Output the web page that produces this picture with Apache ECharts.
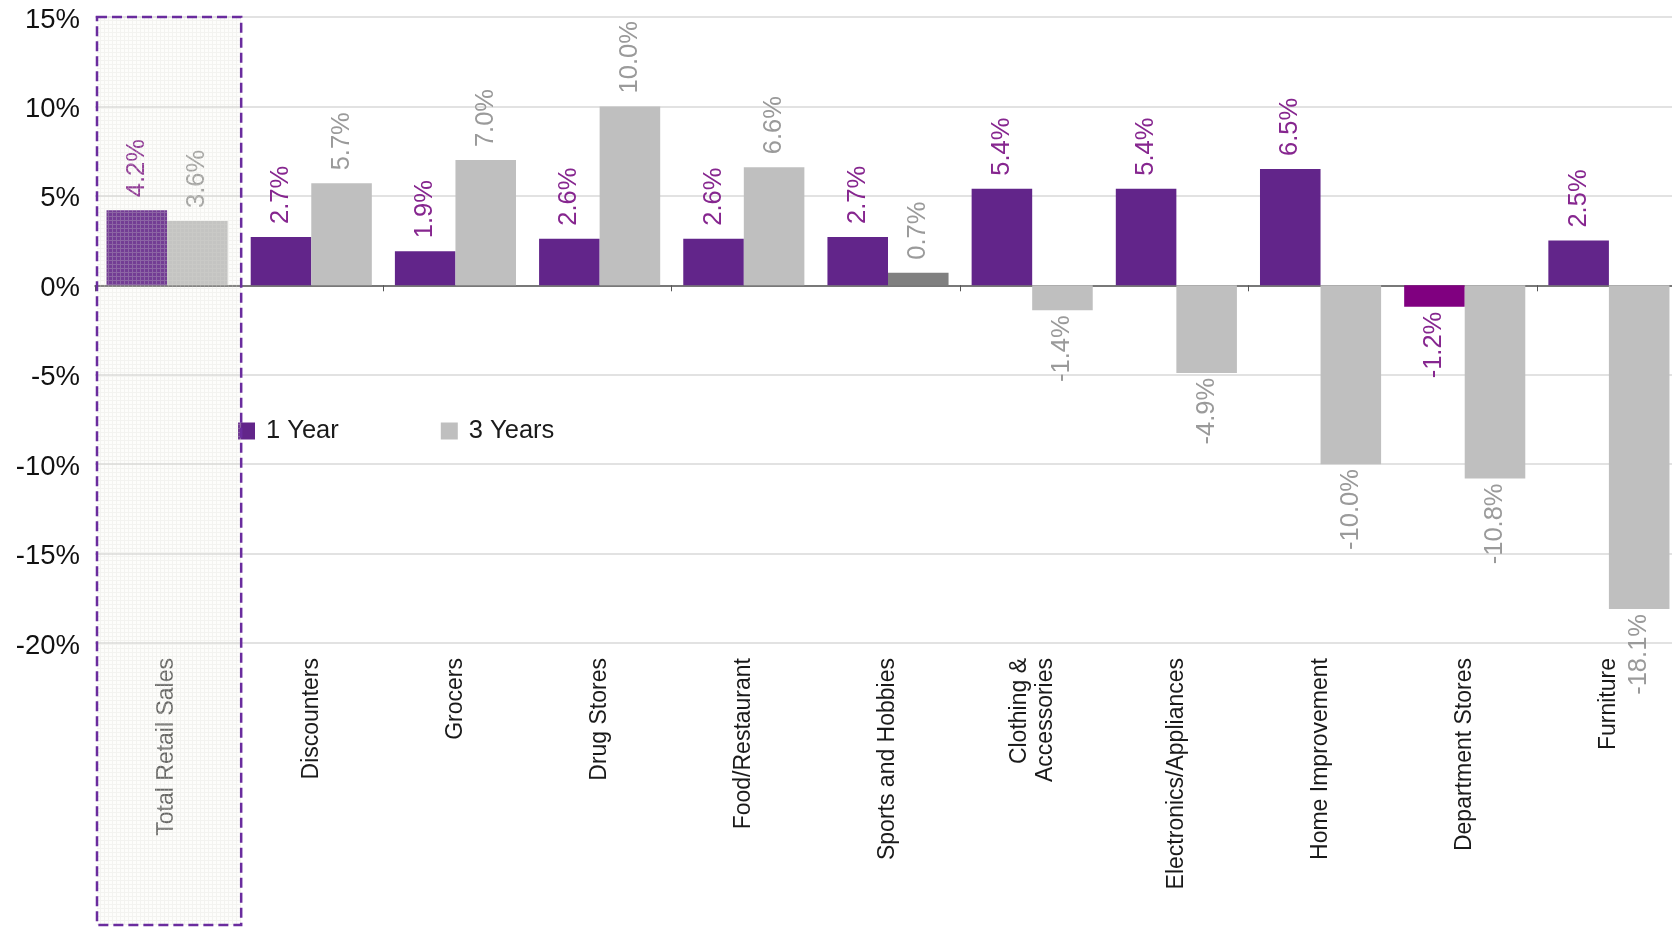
<!DOCTYPE html>
<html>
<head>
<meta charset="utf-8">
<script src="https://cdn.jsdelivr.net/npm/echarts@6/dist/echarts.min.js"></script>
<style>
  html, body { margin: 0; padding: 0; background: #ffffff; }
  #chart { width: 1672px; height: 927px; }
</style>
</head>
<body>
<div id="chart"></div>
<script>
// Retail sales growth by segment: 1-year vs 3-year change (%)
const categories = [
  'Total Retail Sales', 'Discounters', 'Grocers', 'Drug Stores', 'Food/Restaurant',
  'Sports and Hobbies', 'Clothing &\nAccessories', 'Electronics/Appliances',
  'Home Improvement', 'Department Stores', 'Furniture'
];
const oneYear = [4.2, 2.7, 1.9, 2.6, 2.6, 2.7, 5.4, 5.4, 6.5, -1.2, 2.5];
const threeYears = [3.6, 5.7, 7.0, 10.0, 6.6, 0.7, -1.4, -4.9, -10.0, -10.8, -18.1];
const yTicks = { min: -20, max: 15, interval: 5 };

const PURPLE = '#62258a';
const GREY = '#bfbfbf';
const PURPLE_LABEL = '#86268f';
const GREY_LABEL = '#9a9a9a';
// individual bars drawn in an alternate shade
const oneYearAccent = { 9: '#800080' };
const threeYearAccent = { 5: '#808080' };
const FONT = '"Liberation Sans", Arial, Helvetica, sans-serif';

function labelFor(v, color) {
  const pos = v >= 0;
  return {
    show: true,
    position: pos ? 'top' : 'bottom',
    rotate: 90,
    align: pos ? 'left' : 'right',
    verticalAlign: 'middle',
    distance: pos ? 13 : 5,
    color: color,
    fontSize: 25.5,
    fontFamily: FONT,
    formatter: v.toFixed(1) + '%'
  };
}

function buildData(values, accents, labelColor) {
  return values.map((v, i) => {
    const item = { value: v, label: labelFor(v, labelColor) };
    if (accents[i]) item.itemStyle = { color: accents[i] };
    return item;
  });
}

const chart = echarts.init(document.getElementById('chart'), null, { renderer: 'canvas' });

const option = {
  animation: false,
  backgroundColor: '#ffffff',
  textStyle: { fontFamily: FONT },
  // the last category runs slightly past the right edge of the canvas
  grid: {
    left: 95, width: 1586, top: 17, bottom: 284,
    containLabel: false, outerBoundsMode: 'none'
  },
  legend: {
    data: ['1 Year', '3 Years'],
    left: 233,
    top: 413,
    icon: 'rect',
    itemWidth: 17,
    itemHeight: 17,
    itemGap: 102,
    textStyle: { fontSize: 25.5, color: '#1a1a1a', fontFamily: FONT, padding: [0, 0, 0, 6] }
  },
  xAxis: [
    {
      type: 'category',
      data: categories,
      position: 'bottom',
      axisLine: { show: true, onZero: true, lineStyle: { color: '#555555', width: 1.5 } },
      axisTick: { show: true, length: 6, alignWithLabel: false, lineStyle: { color: '#555555' } },
      axisLabel: { show: false },
      splitLine: { show: false }
    },
    {
      type: 'category',
      data: categories,
      position: 'bottom',
      offset: 0,
      axisLine: { show: false, onZero: false },
      axisTick: { show: false },
      axisLabel: {
        show: true,
        rotate: 90,
        margin: 15,
        interval: 0,
        fontSize: 23,
        lineHeight: 26,
        fontFamily: FONT,
        color: (value, index) => (index === 0 ? '#555555' : '#1a1a1a')
      },
      splitLine: { show: false }
    }
  ],
  yAxis: {
    type: 'value',
    min: yTicks.min,
    max: yTicks.max,
    interval: yTicks.interval,
    axisLine: { show: false },
    axisTick: { show: false },
    axisLabel: {
      formatter: (v) => '{t|' + v + '%}',
      margin: 15,
      rich: {
        t: { fontSize: 27.5, color: '#111111', fontFamily: FONT, padding: [6, 0, 0, 0] }
      }
    },
    splitLine: { show: true, lineStyle: { color: '#d9d9d9', width: 1.5 } }
  },
  series: [
    {
      name: '1 Year',
      type: 'bar',
      xAxisIndex: 0,
      barGap: '0%',
      barCategoryGap: '16%',
      itemStyle: { color: PURPLE },
      data: buildData(oneYear, oneYearAccent, PURPLE_LABEL)
    },
    {
      name: '3 Years',
      type: 'bar',
      xAxisIndex: 0,
      barGap: '0%',
      barCategoryGap: '16%',
      itemStyle: { color: GREY },
      data: buildData(threeYears, threeYearAccent, GREY_LABEL)
    }
  ]
};

chart.setOption(option);

// Highlight band around the "Total Retail Sales" category
function textureCanvas() {
  const c = document.createElement('canvas');
  c.width = 4; c.height = 4;
  const ctx = c.getContext('2d');
  ctx.fillStyle = 'rgba(236,236,222,0.12)';
  ctx.fillRect(0, 0, 4, 4);
  ctx.fillStyle = 'rgba(218,218,208,0.26)';
  ctx.fillRect(0, 0, 4, 1);
  ctx.fillRect(0, 1, 1, 3);
  return c;
}

const gridModel = chart.getModel().getComponent('grid', 0);
const rect = gridModel.coordinateSystem.getRect();
const band = rect.width / categories.length;
const center0 = chart.convertToPixel({ xAxisIndex: 0 }, 0);
const topY = chart.convertToPixel({ yAxisIndex: 0 }, yTicks.max);
const bx = center0 - band / 2 + 2;
const bw = band;
const bh = chart.getHeight() - 2 - topY;

chart.setOption({
  graphic: [
    {
      type: 'rect',
      z: 100,
      silent: true,
      shape: { x: bx, y: topY, width: bw, height: bh },
      style: { fill: { image: textureCanvas(), repeat: 'repeat' } }
    },
    {
      type: 'rect',
      z: 101,
      silent: true,
      shape: { x: bx, y: topY, width: bw, height: bh },
      style: { fill: 'none', stroke: '#6a2c9e', lineWidth: 2.5, lineDash: [10, 5] }
    }
  ]
});
</script>
</body>
</html>
